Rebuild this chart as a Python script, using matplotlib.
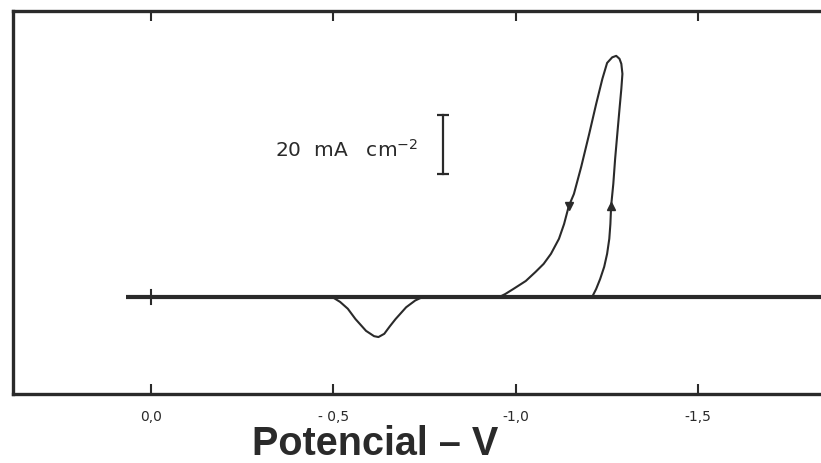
import matplotlib
matplotlib.use("Agg")
import matplotlib.pyplot as plt

# ---- data (potential in V, current density in mA cm^-2) ----
forward_E = [-1.210, -1.221, -1.232, -1.243, -1.251, -1.257, -1.260, -1.262,
             -1.268, -1.273, -1.279, -1.285, -1.290, -1.293, -1.290, -1.285,
             -1.276]
forward_I = [0.0, 2.7, 6.1, 10.2, 14.6, 19.7, 24.7, 30.8,
             38.3, 46.8, 55.3, 63.7, 70.5, 75.6, 79.0, 80.7,
             81.7]
reverse_E = [-1.276, -1.265, -1.251, -1.238, -1.221, -1.202, -1.180, -1.160,
             -1.146, -1.133, -1.119, -1.097, -1.077, -1.055, -1.028, -0.994,
             -0.972, -0.956]
reverse_I = [81.7, 81.2, 79.3, 73.9, 65.4, 55.3, 44.1, 34.9,
             30.8, 24.7, 19.7, 14.6, 11.2, 8.5, 5.4, 2.7,
             1.0, 0.0]
peak_E = [-0.497, -0.519, -0.540, -0.561, -0.590, -0.612, -0.624, -0.640,
          -0.655, -0.671, -0.700, -0.725, -0.746]
peak_I = [0.0, -1.7, -4.0, -7.5, -11.5, -13.3, -13.6, -12.5,
          -10.0, -7.5, -3.5, -1.2, 0.0]
baseline_E = [0.069, -1.86]
baseline_I = [0.0, 0.0]
arrow_E = [-1.146, -1.262]
arrow_I = [30.8, 30.8]
scalebar_E = [-0.801, -0.801]
scalebar_I = [41.7, 61.7]
scalebar_label = "20  mA   cm$^{-2}$"
tick_pos = [0.0, -0.5, -1.0, -1.5]
tick_labels = ["0,0", "- 0,5", "-1,0", "-1,5"]
xlabel = "Potencial \u2013 V"

W, H = 821, 464
fig = plt.figure(figsize=(W / 100, H / 100), dpi=100)
ax = fig.add_axes([13 / W, (H - 395) / H, (W - 13) / W + 0.01, (395 - 12) / H])

lc = "#2a2a2a"
ax.plot(baseline_E, baseline_I, color=lc, lw=3.0, solid_capstyle="butt")
ax.plot([0.0, 0.0], [-2.4, 2.4], color=lc, lw=1.5)
ax.plot(forward_E + reverse_E[1:], forward_I + reverse_I[1:], color=lc, lw=1.5,
        solid_joinstyle="round")
ax.plot(peak_E, peak_I, color=lc, lw=1.5, solid_joinstyle="round")
ax.plot(arrow_E[0], arrow_I[0], marker="v", color=lc, ms=6)
ax.plot(arrow_E[1], arrow_I[1], marker="^", color=lc, ms=6)

# scale bar
ax.plot(scalebar_E, scalebar_I, color=lc, lw=1.6)
ax.plot(scalebar_E, scalebar_I, ls="none", marker="_", color=lc, ms=9, mew=1.6)
ax.text(scalebar_E[0] + 0.068, sum(scalebar_I) / 2 - 1.5, scalebar_label,
        ha="right", va="center", fontsize=14.5, color=lc, family="DejaVu Sans")

ax.set_xlim(0.378, -1.86)
ax.set_ylim(-32.9, 96.9)
ax.set_yticks([])
ax.set_xticks(tick_pos)
ax.set_xticklabels(tick_labels, fontsize=10, color=lc)
ax.tick_params(axis="x", direction="in", length=7, width=1.5, top=True,
               pad=11, colors=lc)
for s in ["left", "top", "bottom"]:
    ax.spines[s].set_linewidth(2.4)
    ax.spines[s].set_color(lc)
ax.spines["right"].set_visible(False)

fig.text(375 / W, 1 - 444 / H, xlabel, ha="center", va="center",
         fontsize=28.5, fontweight="bold", color=lc, family="Liberation Sans")

fig.savefig("out.png", dpi=100)
